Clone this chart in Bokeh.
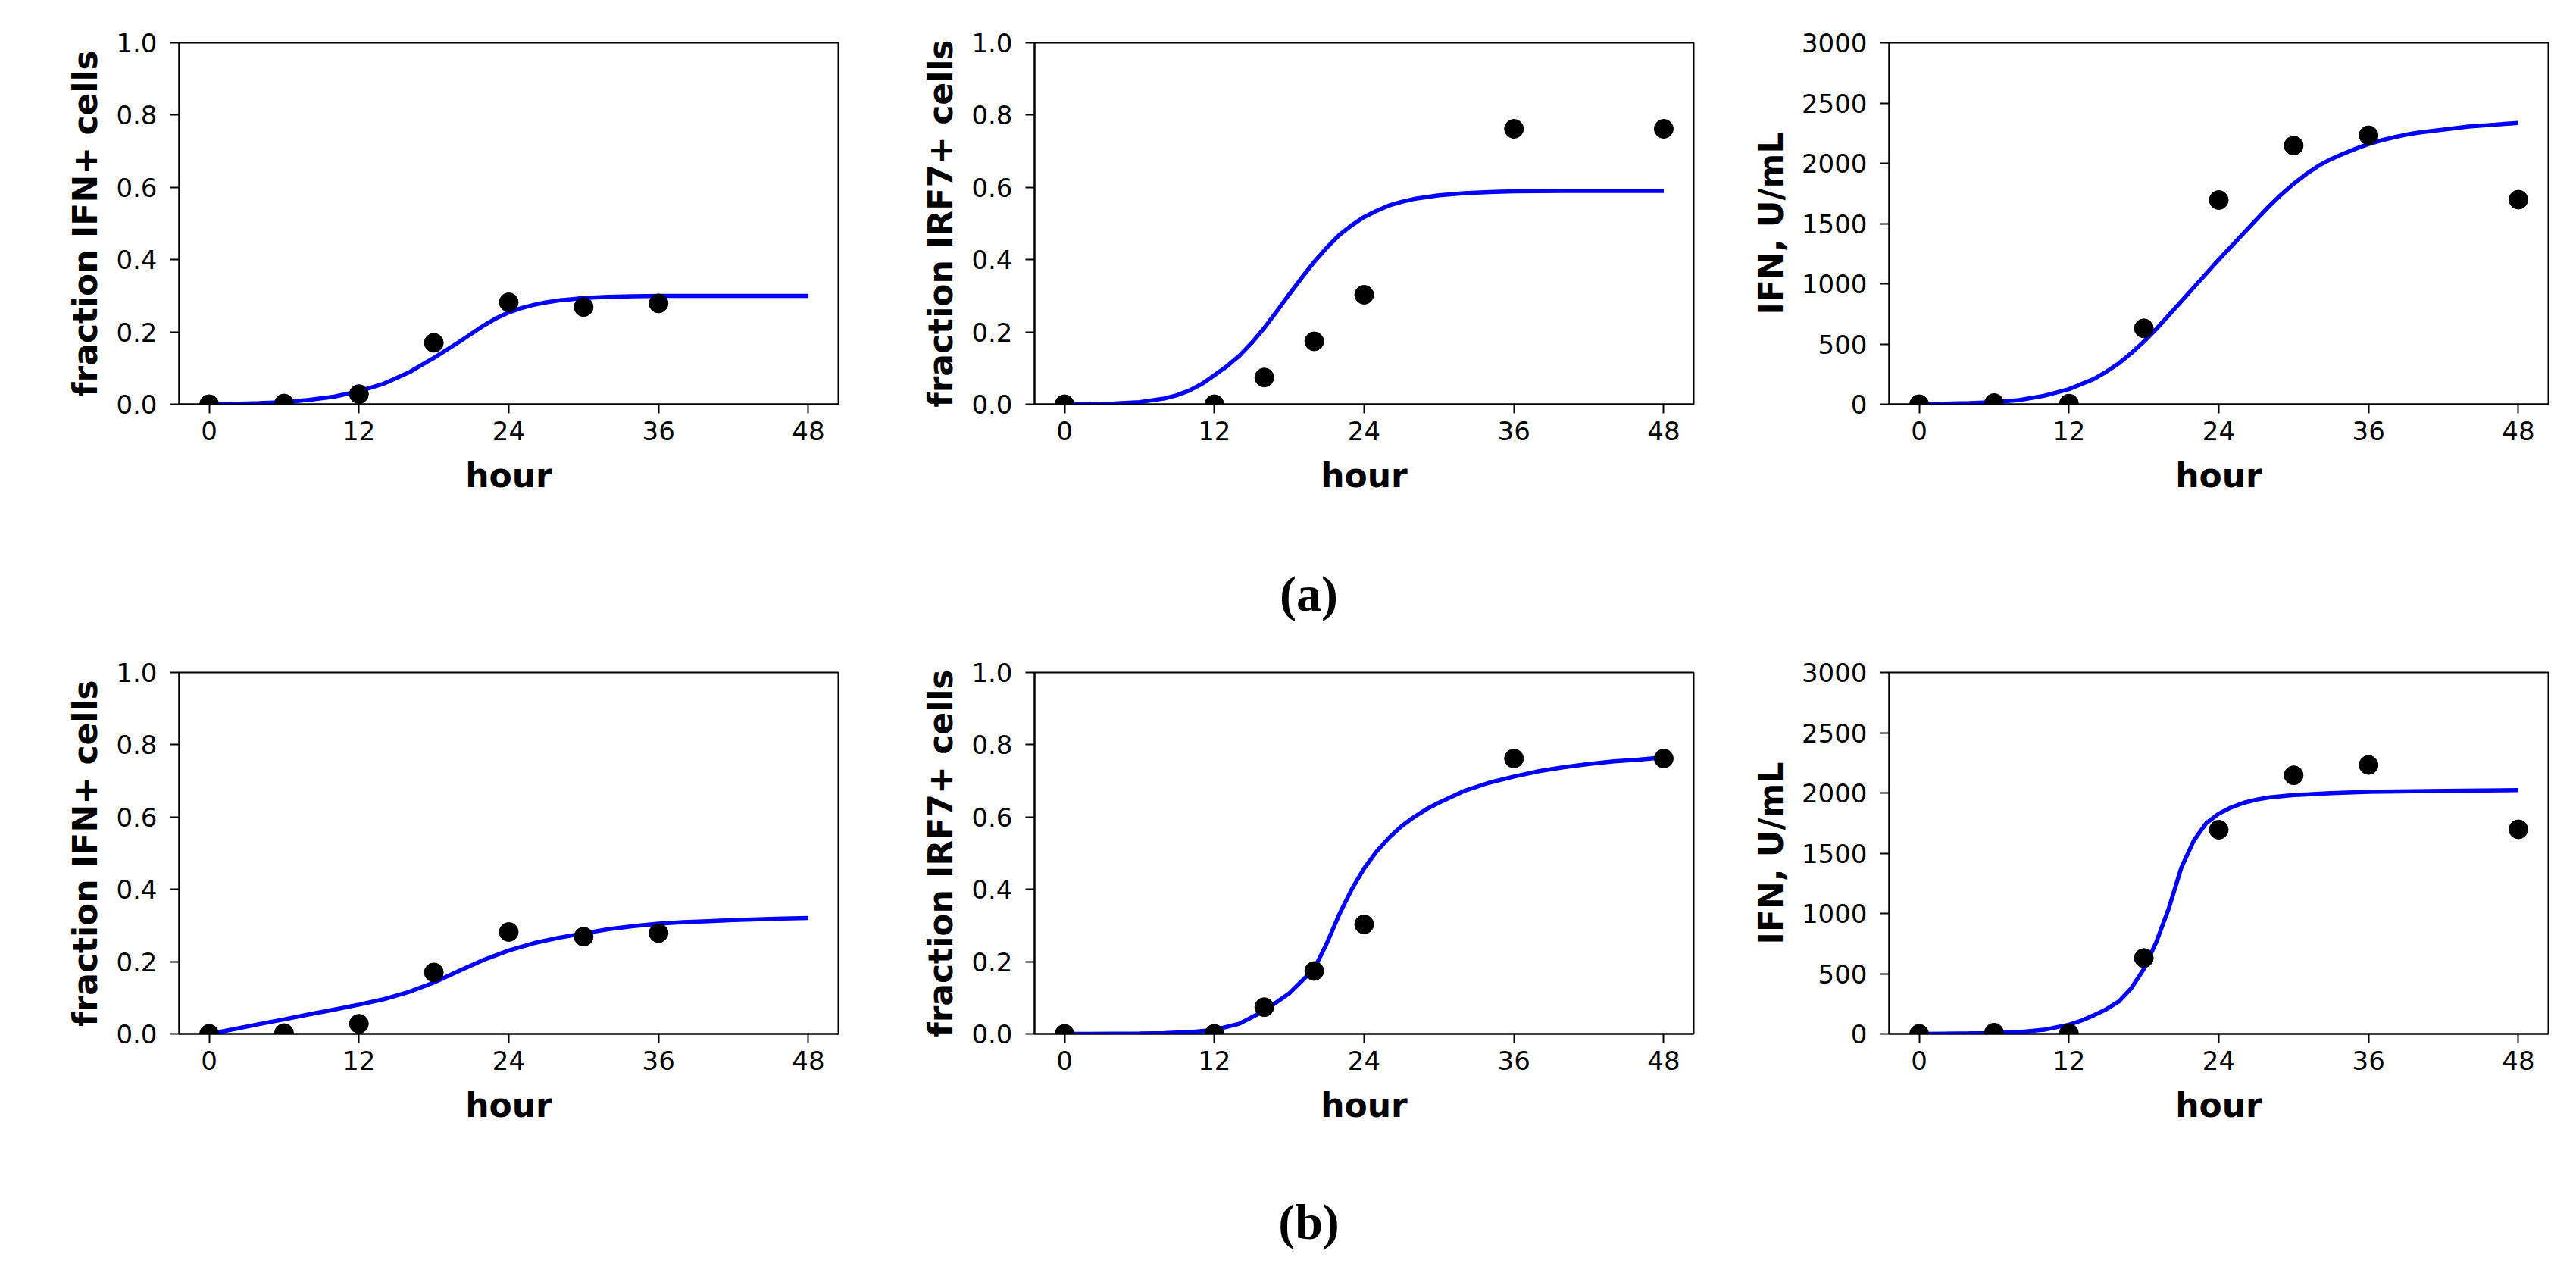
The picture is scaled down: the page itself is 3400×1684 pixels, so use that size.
from bokeh.plotting import figure
from bokeh.layouts import row, column
from bokeh.models import Range1d, FixedTicker, NumeralTickFormatter, Label
from bokeh.embed import file_html
from bokeh.resources import INLINE

# ---------------- data ----------------
x_ticks = [0, 12, 24, 36, 48]

# measured data (same in rows a and b)
ifn_frac_hours = [0, 6, 12, 18, 24, 30, 36]
ifn_frac_vals = [0.0, 0.002, 0.028, 0.170, 0.282, 0.269, 0.279]

irf7_hours = [0, 12, 16, 20, 24, 36, 48]
irf7_vals = [0.0, 0.0, 0.074, 0.174, 0.303, 0.762, 0.762]

ifn_conc_hours = [0, 6, 12, 18, 24, 30, 36, 48]
ifn_conc_vals = [0, 10, 5, 630, 1695, 2147, 2232, 1698]

# model curves, row (a)
fit_a_ifn_frac_hours = [0, 2, 4, 6, 8, 10, 12, 14, 16, 17, 18, 19, 20, 21, 22, 23, 24, 25, 26, 27, 28, 30, 32, 34,
                        36, 40, 44, 48]
fit_a_ifn_frac_vals = [0.0, 0.001, 0.003, 0.006, 0.012, 0.021, 0.036, 0.057, 0.088, 0.108, 0.128, 0.150, 0.172,
                       0.195, 0.218, 0.238, 0.254, 0.266, 0.275, 0.282, 0.287, 0.294, 0.297, 0.299, 0.300, 0.300,
                       0.300, 0.300]

fit_a_irf7_hours = [0, 2, 4, 6, 8, 9, 10, 11, 12, 13, 14, 15, 16, 17, 18, 19, 20, 21, 22, 23, 24, 25, 26, 27, 28,
                    30, 32, 34, 36, 40, 44, 48]
fit_a_irf7_vals = [0.0, 0.0005, 0.002, 0.006, 0.016, 0.025, 0.038, 0.056, 0.080, 0.105, 0.134, 0.170, 0.211, 0.257,
                   0.304, 0.350, 0.394, 0.433, 0.468, 0.495, 0.518, 0.535, 0.550, 0.560, 0.568, 0.578, 0.584,
                   0.587, 0.589, 0.590, 0.590, 0.590]

fit_a_ifn_conc_hours = [0, 2, 4, 6, 8, 10, 12, 14, 15, 16, 17, 18, 19, 20, 21, 22, 23, 24, 25, 26, 27, 28, 29, 30,
                        31, 32, 33, 34, 35, 36, 37, 38, 39, 40, 42, 44, 46, 48]
fit_a_ifn_conc_vals = [2, 5, 10, 18, 35, 70, 125, 210, 270, 340, 425, 520, 625, 740, 855, 970, 1085, 1200, 1310,
                       1420, 1530, 1640, 1740, 1830, 1910, 1980, 2035, 2080, 2122, 2160, 2190, 2215, 2237, 2255,
                       2280, 2305, 2320, 2335]

# model curves, row (b)
fit_b_ifn_frac_hours = [0, 2, 4, 6, 8, 10, 12, 14, 16, 18, 20, 22, 24, 26, 28, 30, 32, 34, 36, 38, 40, 42, 44, 46, 48]
fit_b_ifn_frac_vals = [0.0, 0.013, 0.027, 0.040, 0.054, 0.067, 0.081, 0.096, 0.116, 0.142, 0.174, 0.205, 0.231,
                       0.251, 0.266, 0.278, 0.290, 0.298, 0.305, 0.309, 0.312, 0.315, 0.317, 0.319, 0.321]

fit_b_irf7_hours = [0, 2, 4, 6, 8, 10, 12, 14, 16, 18, 20, 21, 22, 23, 24, 25, 26, 27, 28, 29, 30, 32, 34, 36, 38,
                    40, 42, 44, 46, 48]
fit_b_irf7_vals = [0.0, 0.0, 0.0005, 0.001, 0.002, 0.005, 0.011, 0.028, 0.064, 0.112, 0.180, 0.250, 0.330, 0.400,
                   0.458, 0.505, 0.543, 0.575, 0.600, 0.622, 0.640, 0.672, 0.695, 0.712, 0.727, 0.738, 0.747,
                   0.754, 0.759, 0.765]

fit_b_ifn_conc_hours = [0, 2, 4, 6, 8, 10, 12, 13, 14, 15, 16, 17, 18, 19, 20, 21, 22, 23, 24, 25, 26, 27, 28, 30,
                        33, 36, 42, 48]
fit_b_ifn_conc_vals = [0, 2, 4, 7, 15, 34, 76, 110, 155, 205, 270, 380, 540, 763, 1043, 1380, 1604, 1750, 1828,
                       1880, 1918, 1944, 1962, 1982, 1998, 2010, 2018, 2024]

frac_ticks = [0.0, 0.2, 0.4, 0.6, 0.8, 1.0]
conc_ticks = [0, 500, 1000, 1500, 2000, 2500, 3000]

ylabel_ifn_frac = "fraction IFN+ cells"
ylabel_irf7 = "fraction IRF7+ cells"
ylabel_ifn_conc = "IFN, U/mL"
xlabel = "hour"
panel_labels = ["(a)", "(b)"]

# ---------------- layout constants ----------------
FRAME_W = 870
FRAME_H = 477
RIGHT = 20
BOTTOM = 170
lefts = [236, 239, 238]


def make_panel(col, top, xs_pts, ys_pts, xs_fit, ys_fit, ylabel, yticks, ymax, yfmt):
    left = lefts[col]
    p = figure(width=left + FRAME_W + RIGHT, height=top + FRAME_H + BOTTOM,
               x_range=Range1d(-2.4, 50.4), y_range=Range1d(0, ymax),
               output_backend="svg", toolbar_location=None,
               min_border_left=left, min_border_right=RIGHT,
               min_border_top=top, min_border_bottom=BOTTOM)
    p.xgrid.visible = False
    p.ygrid.visible = False
    p.outline_line_color = "black"
    p.outline_line_width = 2
    p.outline_line_alpha = 1.0
    p.background_fill_color = "white"
    p.border_fill_color = "white"

    p.line(xs_fit, ys_fit, line_color="#0000ff", line_width=5.5)
    p.scatter(xs_pts, ys_pts, size=25, marker="circle", fill_color="black", line_color="black")

    p.xaxis.ticker = FixedTicker(ticks=x_ticks)
    p.yaxis.ticker = FixedTicker(ticks=yticks)
    p.yaxis.formatter = NumeralTickFormatter(format=yfmt)
    p.xaxis.axis_label = xlabel
    p.yaxis.axis_label = ylabel
    for ax in (p.xaxis[0], p.yaxis[0]):
        ax.axis_line_color = "black"
        ax.axis_line_width = 2
        ax.major_tick_line_color = "black"
        ax.major_tick_line_width = 2
        ax.major_tick_out = 12
        ax.major_tick_in = 0
        ax.minor_tick_line_color = None
        ax.major_label_text_font = "DejaVu Sans"
        ax.major_label_text_font_size = "34px"
        ax.major_label_text_color = "black"
        ax.axis_label_text_font = "DejaVu Sans"
        ax.axis_label_text_font_size = "44px"
        ax.axis_label_text_font_style = "bold"
        ax.axis_label_text_color = "black"
    p.xaxis.major_label_standoff = 10
    p.xaxis.axis_label_standoff = 18
    p.yaxis.major_label_standoff = 17
    p.yaxis.axis_label_standoff = 12
    return p


def make_label(text, height, cy):
    W = 3375
    p = figure(width=W, height=height, x_range=Range1d(0, W), y_range=Range1d(0, height),
               output_backend="svg", toolbar_location=None,
               min_border=0, min_border_left=0, min_border_right=0,
               min_border_top=0, min_border_bottom=0)
    p.axis.visible = False
    p.xgrid.visible = False
    p.ygrid.visible = False
    p.outline_line_color = None
    p.background_fill_color = "white"
    p.border_fill_color = "white"
    p.add_layout(Label(x=1727, y=height - cy, text=text, text_align="center", text_baseline="middle",
                       text_font="Liberation Serif", text_font_size="66px", text_font_style="bold",
                       text_color="black"))
    return p


TOP_A = 56
TOP_B = 24

row_a = row(
    make_panel(0, TOP_A, ifn_frac_hours, ifn_frac_vals, fit_a_ifn_frac_hours, fit_a_ifn_frac_vals,
               ylabel_ifn_frac, frac_ticks, 1.0, "0.0"),
    make_panel(1, TOP_A, irf7_hours, irf7_vals, fit_a_irf7_hours, fit_a_irf7_vals,
               ylabel_irf7, frac_ticks, 1.0, "0.0"),
    make_panel(2, TOP_A, ifn_conc_hours, ifn_conc_vals, fit_a_ifn_conc_hours, fit_a_ifn_conc_vals,
               ylabel_ifn_conc, conc_ticks, 3000, "0"),
)
row_b = row(
    make_panel(0, TOP_B, ifn_frac_hours, ifn_frac_vals, fit_b_ifn_frac_hours, fit_b_ifn_frac_vals,
               ylabel_ifn_frac, frac_ticks, 1.0, "0.0"),
    make_panel(1, TOP_B, irf7_hours, irf7_vals, fit_b_irf7_hours, fit_b_irf7_vals,
               ylabel_irf7, frac_ticks, 1.0, "0.0"),
    make_panel(2, TOP_B, ifn_conc_hours, ifn_conc_vals, fit_b_ifn_conc_hours, fit_b_ifn_conc_vals,
               ylabel_ifn_conc, conc_ticks, 3000, "0"),
)

lab_a = make_label(panel_labels[0], 160, 80)
lab_b = make_label(panel_labels[1], 140, 78)

layout = column(row_a, lab_a, row_b, lab_b)

open("out.html", "w").write(file_html(layout, INLINE))
